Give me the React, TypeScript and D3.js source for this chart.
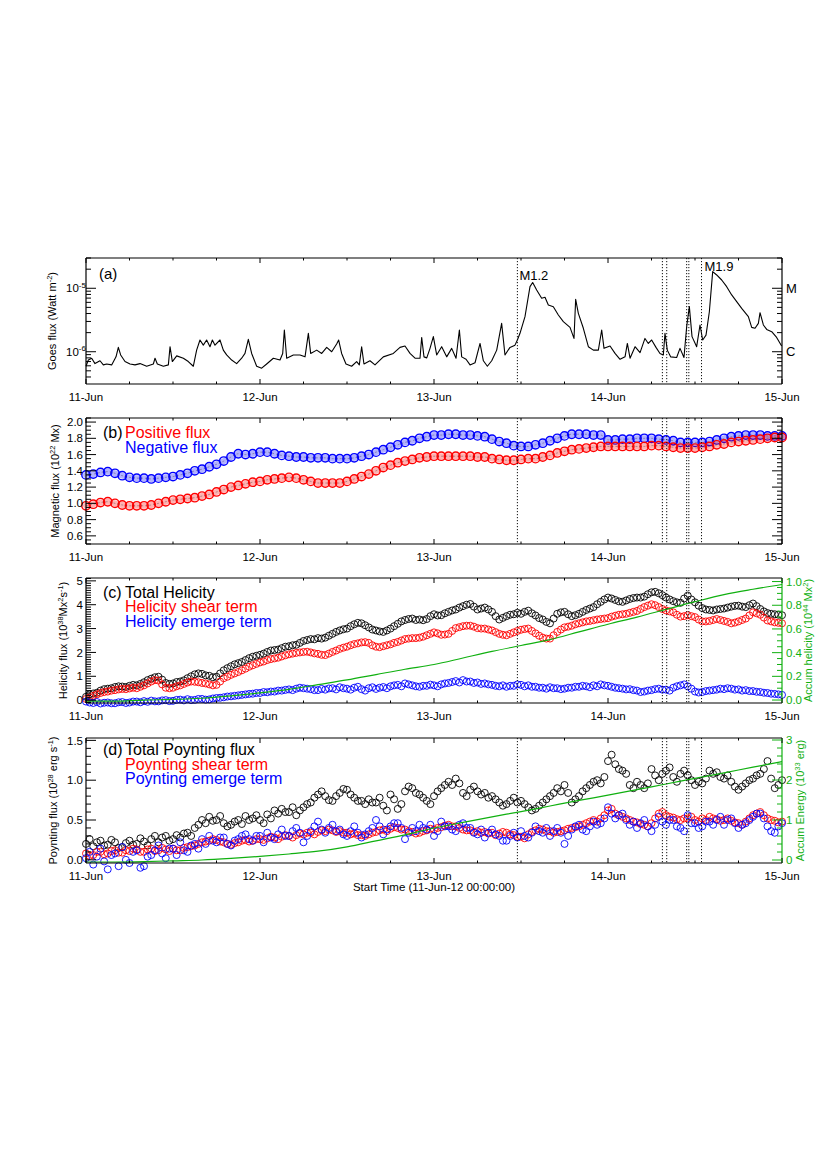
import React from 'react';
import * as d3 from 'd3';

// time axis: hours since 11-Jun-12 00:00:00
const dayLabels = ['11-Jun', '12-Jun', '13-Jun', '14-Jun', '15-Jun'];
const eventHours = [59.5, 79.5, 80.1, 82.85, 83.15, 84.9];

// (a) GOES flux, in units of 1e-6 W m^-2
const goesHour = [0, 0.32, 0.78, 1.24, 1.93, 2.39, 2.85, 3.54, 4.14, 4.46, 4.78, 5.38, 6.07, 6.76, 7.45, 8.37, 9.29, 9.52, 9.84, 10.67,
  11.36, 11.59, 11.91, 12.51, 13.43, 14.11, 14.8, 15.26, 15.72, 16.18, 16.64, 17.1, 17.43, 17.79, 18.48, 18.94, 19.4, 20.09, 20.78, 21.47,
  21.93, 22.39, 22.85, 23.54, 24.23, 24.92, 25.84, 26.76, 27.13, 27.36, 27.68, 28.6, 29.52, 30.21, 30.67, 30.99, 31.82, 32.51, 33.2, 33.89,
  34.57, 34.85, 35.26, 35.86, 36.64, 37.33, 37.7, 38.02, 38.34, 39.17, 39.86, 41.01, 42.39, 43.31, 44.0, 44.69, 45.38, 46.07, 46.3, 46.62,
  47.0, 47.45, 47.91, 48.37, 49.06, 49.75, 50.44, 51.04, 51.5, 51.82, 52.42, 52.97, 53.66, 54.35, 54.81, 55.36, 55.96, 56.65, 57.33, 57.79,
  58.48, 59.17, 59.5, 59.86, 60.55, 61.24, 61.61, 62.16, 62.85, 63.31, 63.77, 64.46, 65.15, 65.84, 66.76, 67.31, 67.54, 67.91, 68.6, 69.29,
  69.98, 70.67, 71.13, 71.45, 72.28, 72.97, 73.66, 74.35, 74.67, 75.04, 75.73, 76.42, 77.1, 77.56, 78.02, 78.62, 79.17, 79.63, 79.86, 80.18,
  80.64, 81.47, 81.93, 82.48, 82.85, 83.22, 83.59, 84.23, 84.69, 85.06, 85.52, 85.98, 86.44, 86.99, 87.68, 88.37, 89.06, 89.75, 90.44, 91.36,
  91.82, 92.28, 92.74, 92.97, 93.43, 93.89, 94.58, 95.26, 95.95];
const goesFlux = [0.59, 0.74, 0.79, 0.65, 0.72, 0.62, 0.64, 0.62, 0.83, 1.17, 0.89, 0.70, 0.64, 0.62, 0.65, 0.59, 0.64, 0.79, 0.64, 0.59,
  0.62, 1.20, 0.70, 0.86, 0.79, 0.70, 0.59, 1.06, 1.53, 1.27, 1.53, 1.20, 1.53, 1.27, 1.53, 1.06, 0.89, 0.74, 0.65, 0.79,
  0.94, 1.57, 0.94, 0.59, 0.55, 0.64, 0.79, 0.74, 0.94, 2.20, 0.79, 0.89, 0.89, 0.83, 1.95, 0.94, 1.06, 0.94, 1.17, 1.0,
  1.32, 1.53, 0.94, 0.64, 0.59, 0.70, 0.62, 1.20, 0.64, 0.72, 0.62, 0.83, 0.94, 1.17, 1.23, 0.94, 0.79, 0.79, 1.68, 0.83,
  0.80, 1.13, 1.73, 0.89, 1.20, 0.83, 1.13, 0.79, 2.20, 0.83, 0.76, 0.62, 0.67, 1.35, 0.72, 0.59, 0.72, 1.06, 2.80, 0.89,
  1.17, 1.27, 1.53, 1.95, 3.57, 10.6, 12.3, 9.4, 6.95, 7.2, 5.45, 5.13, 3.79, 2.98, 2.42, 1.62, 6.70, 4.03, 2.34, 1.20,
  1.06, 1.06, 2.20, 1.13, 1.23, 0.94, 0.76, 0.83, 1.35, 0.79, 1.20, 0.97, 1.62, 1.35, 1.53, 1.17, 0.94, 0.89, 1.95, 1.06,
  0.83, 0.81, 1.13, 0.81, 2.48, 5.13, 1.73, 1.20, 2.64, 1.53, 1.83, 4.27, 18.3, 16.2, 13.5, 10.6, 7.85, 6.16, 4.83, 3.57,
  2.42, 2.34, 2.80, 4.12, 2.64, 2.25, 2.07, 1.68, 1.23];

// (b) hourly magnetic flux, 1e22 Mx
const posFlux = [0.97, 0.99, 1.01, 1.02, 1.00, 0.98, 0.97, 0.97, 0.97, 0.98, 1.00, 1.02, 1.04, 1.05, 1.06, 1.07, 1.09, 1.11, 1.14, 1.17,
  1.20, 1.22, 1.24, 1.26, 1.27, 1.29, 1.30, 1.31, 1.32, 1.31, 1.29, 1.27, 1.25, 1.25, 1.25, 1.25, 1.27, 1.30, 1.33, 1.36,
  1.40, 1.44, 1.47, 1.50, 1.52, 1.54, 1.56, 1.57, 1.58, 1.58, 1.58, 1.58, 1.58, 1.58, 1.57, 1.57, 1.55, 1.54, 1.53, 1.53,
  1.54, 1.55, 1.55, 1.57, 1.59, 1.62, 1.64, 1.66, 1.67, 1.68, 1.69, 1.70, 1.70, 1.70, 1.70, 1.70, 1.70, 1.70, 1.71, 1.71,
  1.70, 1.69, 1.68, 1.68, 1.68, 1.69, 1.70, 1.72, 1.73, 1.75, 1.76, 1.77, 1.78, 1.79, 1.80, 1.81, 1.81];
const negFlux = [1.35, 1.36, 1.38, 1.39, 1.37, 1.34, 1.32, 1.31, 1.31, 1.30, 1.31, 1.32, 1.33, 1.35, 1.37, 1.40, 1.42, 1.45, 1.48, 1.52,
  1.57, 1.61, 1.60, 1.61, 1.63, 1.63, 1.61, 1.59, 1.58, 1.57, 1.57, 1.56, 1.56, 1.56, 1.55, 1.55, 1.55, 1.56, 1.58, 1.60,
  1.63, 1.66, 1.69, 1.72, 1.75, 1.77, 1.80, 1.82, 1.84, 1.84, 1.85, 1.85, 1.84, 1.84, 1.83, 1.82, 1.79, 1.76, 1.74, 1.71,
  1.70, 1.70, 1.72, 1.74, 1.77, 1.80, 1.83, 1.85, 1.85, 1.85, 1.84, 1.84, 1.78, 1.78, 1.79, 1.79, 1.80, 1.80, 1.80, 1.79,
  1.78, 1.77, 1.75, 1.75, 1.75, 1.75, 1.76, 1.78, 1.80, 1.82, 1.83, 1.84, 1.84, 1.84, 1.83, 1.83, 1.83];

// (c) half-hourly helicity flux, 1e38 Mx^2 s^-1
const helTotal = [
  0.14, 0.24, 0.28, 0.31, 0.40, 0.46, 0.48, 0.50, 0.55, 0.58, 0.57, 0.55, 0.60, 0.64, 0.62, 0.68, 0.75, 0.84, 0.90, 0.96,
  0.98, 0.86, 0.72, 0.68, 0.70, 0.76, 0.78, 0.83, 0.92, 1.00, 1.08, 1.12, 1.10, 1.04, 1.02, 0.96, 0.98, 1.12, 1.25, 1.34,
  1.42, 1.50, 1.55, 1.60, 1.68, 1.76, 1.82, 1.86, 1.90, 1.95, 2.02, 2.08, 2.10, 2.12, 2.18, 2.24, 2.26, 2.30, 2.32, 2.40,
  2.48, 2.52, 2.56, 2.55, 2.60, 2.58, 2.62, 2.70, 2.78, 2.86, 2.92, 2.97, 3.00, 3.10, 3.18, 3.24, 3.22, 3.14, 3.05, 2.96,
  2.92, 2.88, 2.86, 2.92, 3.00, 3.10, 3.20, 3.30, 3.36, 3.40, 3.42, 3.36, 3.38, 3.35, 3.40, 3.52, 3.60, 3.55, 3.56, 3.64,
  3.70, 3.76, 3.80, 3.88, 3.94, 4.00, 4.03, 3.92, 3.80, 3.84, 3.88, 3.80, 3.70, 3.52, 3.38, 3.45, 3.52, 3.58, 3.60, 3.66,
  3.62, 3.70, 3.75, 3.64, 3.55, 3.44, 3.38, 3.28, 3.22, 3.42, 3.62, 3.68, 3.70, 3.60, 3.52, 3.56, 3.62, 3.70, 3.78, 3.84,
  3.90, 4.02, 4.12, 4.22, 4.30, 4.26, 4.20, 4.14, 4.12, 4.18, 4.24, 4.28, 4.30, 4.30, 4.34, 4.44, 4.52, 4.54, 4.48, 4.40,
  4.30, 4.22, 4.15, 4.10, 4.08, 4.26, 4.38, 4.22, 4.10, 3.96, 3.86, 3.80, 3.78, 3.76, 3.80, 3.82, 3.84, 3.88, 3.92, 3.95,
  3.96, 3.92, 3.90, 3.98, 4.05, 3.94, 3.82, 3.72, 3.65, 3.62, 3.60, 3.58, 3.56];
const helShear = [
  0.05, 0.12, 0.18, 0.24, 0.30, 0.34, 0.36, 0.40, 0.42, 0.45, 0.47, 0.46, 0.49, 0.52, 0.50, 0.56, 0.62, 0.70, 0.78, 0.84,
  0.82, 0.66, 0.52, 0.50, 0.52, 0.58, 0.62, 0.68, 0.74, 0.78, 0.77, 0.75, 0.72, 0.70, 0.66, 0.62, 0.64, 0.78, 0.92, 0.98,
  1.06, 1.12, 1.18, 1.25, 1.32, 1.40, 1.46, 1.52, 1.58, 1.62, 1.68, 1.72, 1.75, 1.78, 1.83, 1.88, 1.92, 1.95, 1.98, 2.00,
  2.02, 2.03, 2.00, 1.96, 1.94, 1.90, 1.89, 1.95, 2.02, 2.08, 2.15, 2.20, 2.24, 2.30, 2.35, 2.38, 2.42, 2.43, 2.40, 2.30,
  2.24, 2.22, 2.26, 2.30, 2.34, 2.40, 2.44, 2.50, 2.56, 2.58, 2.60, 2.60, 2.62, 2.66, 2.72, 2.78, 2.84, 2.80, 2.74, 2.75,
  2.78, 2.90, 3.02, 3.06, 3.10, 3.12, 3.12, 3.08, 3.02, 3.00, 3.00, 2.96, 2.92, 2.85, 2.78, 2.74, 2.72, 2.78, 2.84, 2.90,
  2.95, 2.98, 3.00, 2.90, 2.80, 2.70, 2.62, 2.58, 2.58, 2.72, 2.86, 2.96, 3.05, 3.08, 3.12, 3.18, 3.22, 3.26, 3.30, 3.32,
  3.35, 3.38, 3.40, 3.42, 3.44, 3.50, 3.54, 3.58, 3.60, 3.62, 3.66, 3.70, 3.74, 3.82, 3.90, 3.96, 4.02, 3.98, 3.90, 3.82,
  3.76, 3.72, 3.68, 3.58, 3.50, 3.52, 3.56, 3.52, 3.48, 3.38, 3.30, 3.30, 3.32, 3.36, 3.40, 3.36, 3.32, 3.28, 3.22, 3.25,
  3.30, 3.36, 3.42, 3.55, 3.68, 3.64, 3.58, 3.46, 3.34, 3.30, 3.26, 3.24, 3.22];
const helEmerge = [
  -0.06, -0.10, -0.12, -0.08, -0.14, -0.11, -0.10, -0.13, -0.13, -0.09, -0.08, -0.12, -0.10, -0.06, -0.06, -0.09, -0.04, -0.07, -0.02, -0.05,
  -0.05, -0.01, 0.00, -0.04, -0.03, 0.01, 0.02, -0.01, 0.04, 0.00, 0.01, 0.05, 0.05, 0.02, 0.03, 0.07, 0.09, 0.10, 0.12, 0.15,
  0.16, 0.18, 0.20, 0.22, 0.24, 0.26, 0.27, 0.30, 0.30, 0.34, 0.33, 0.36, 0.36, 0.40, 0.40, 0.43, 0.45, 0.42, 0.48, 0.52,
  0.50, 0.48, 0.46, 0.42, 0.42, 0.47, 0.44, 0.49, 0.50, 0.45, 0.54, 0.50, 0.48, 0.44, 0.52, 0.56, 0.46, 0.40, 0.50, 0.54,
  0.47, 0.52, 0.55, 0.50, 0.58, 0.62, 0.64, 0.58, 0.70, 0.66, 0.62, 0.58, 0.56, 0.60, 0.60, 0.65, 0.62, 0.58, 0.66, 0.70,
  0.72, 0.76, 0.80, 0.74, 0.84, 0.78, 0.78, 0.72, 0.74, 0.68, 0.70, 0.66, 0.64, 0.60, 0.58, 0.62, 0.56, 0.60, 0.60, 0.66,
  0.64, 0.58, 0.62, 0.56, 0.56, 0.52, 0.52, 0.48, 0.54, 0.50, 0.50, 0.46, 0.48, 0.52, 0.52, 0.56, 0.56, 0.60, 0.58, 0.54,
  0.62, 0.58, 0.66, 0.62, 0.60, 0.56, 0.52, 0.50, 0.48, 0.45, 0.46, 0.42, 0.40, 0.34, 0.36, 0.40, 0.42, 0.46, 0.48, 0.44,
  0.44, 0.40, 0.52, 0.58, 0.62, 0.66, 0.58, 0.48, 0.36, 0.32, 0.34, 0.38, 0.40, 0.42, 0.44, 0.48, 0.46, 0.50, 0.48, 0.44,
  0.45, 0.40, 0.42, 0.38, 0.38, 0.35, 0.34, 0.31, 0.30, 0.27, 0.26, 0.24, 0.22];

// accumulated quantities, every 4 hours
const accumHour = [0, 4, 8, 12, 16, 20, 24, 28, 32, 36, 40, 44, 48, 52, 56, 60, 64, 68, 72, 76, 80, 84, 88, 92, 96];
const accumHel = [-0.01, -0.01, 0.0, 0.005, 0.015, 0.035, 0.06, 0.09, 0.13, 0.17, 0.215, 0.26, 0.30, 0.355, 0.41, 0.46, 0.51, 0.575,
  0.64, 0.70, 0.765, 0.83, 0.89, 0.935, 0.975];
const accumEnergy = [-0.05, -0.05, -0.04, -0.02, 0.0, 0.04, 0.09, 0.15, 0.22, 0.33, 0.48, 0.63, 0.80, 0.94, 1.08, 1.21, 1.35, 1.49,
  1.62, 1.76, 1.90, 2.04, 2.18, 2.32, 2.46];

// (d) half-hourly Poynting flux, 1e28 erg s^-1
const poyTotal = [
  0.20, 0.26, 0.17, 0.22, 0.24, 0.18, 0.19, 0.25, 0.22, 0.15, 0.16, 0.21, 0.24, 0.19, 0.20, 0.27, 0.23, 0.18, 0.26, 0.30,
  0.22, 0.28, 0.30, 0.24, 0.26, 0.31, 0.28, 0.33, 0.34, 0.30, 0.40, 0.44, 0.50, 0.46, 0.54, 0.49, 0.50, 0.55, 0.46, 0.42,
  0.44, 0.48, 0.50, 0.45, 0.55, 0.50, 0.52, 0.56, 0.50, 0.46, 0.57, 0.52, 0.62, 0.58, 0.64, 0.60, 0.60, 0.66, 0.56, 0.62,
  0.66, 0.70, 0.72, 0.78, 0.82, 0.86, 0.80, 0.75, 0.74, 0.80, 0.84, 0.89, 0.88, 0.82, 0.78, 0.74, 0.74, 0.70, 0.76, 0.72,
  0.72, 0.78, 0.68, 0.62, 0.82, 0.76, 0.64, 0.70, 0.86, 0.92, 0.90, 0.84, 0.82, 0.78, 0.74, 0.70, 0.80, 0.86, 0.90, 0.94,
  0.98, 0.94, 1.02, 0.96, 0.84, 0.80, 0.88, 0.92, 0.86, 0.82, 0.84, 0.78, 0.80, 0.76, 0.72, 0.68, 0.70, 0.74, 0.78, 0.72,
  0.74, 0.70, 0.66, 0.62, 0.64, 0.68, 0.72, 0.76, 0.80, 0.84, 0.90, 0.86, 0.94, 0.84, 0.72, 0.76, 0.80, 0.86, 0.90, 0.94,
  0.98, 1.00, 0.96, 1.04, 1.24, 1.32, 1.20, 1.14, 1.12, 1.08, 0.94, 0.90, 0.98, 0.94, 0.90, 0.96, 1.14, 1.06, 1.00, 1.08,
  1.12, 1.16, 1.04, 0.98, 1.08, 1.12, 1.06, 1.00, 0.94, 0.98, 0.96, 1.02, 1.12, 1.08, 1.10, 1.04, 1.02, 1.06, 0.98, 0.92,
  0.88, 0.92, 0.96, 1.00, 1.02, 1.06, 1.08, 1.14, 1.24, 1.02, 0.90, 0.94, 1.00];
const poyShear = [
  0.08, 0.05, 0.06, 0.10, 0.10, 0.07, 0.08, 0.11, 0.12, 0.09, 0.09, 0.12, 0.11, 0.14, 0.13, 0.10, 0.10, 0.13, 0.14, 0.11,
  0.12, 0.15, 0.13, 0.11, 0.14, 0.12, 0.12, 0.15, 0.16, 0.17, 0.18, 0.20, 0.22, 0.23, 0.24, 0.26, 0.25, 0.23, 0.22, 0.20,
  0.19, 0.21, 0.22, 0.24, 0.25, 0.23, 0.24, 0.26, 0.26, 0.25, 0.27, 0.29, 0.28, 0.26, 0.29, 0.31, 0.30, 0.28, 0.31, 0.33,
  0.32, 0.34, 0.34, 0.32, 0.35, 0.37, 0.36, 0.38, 0.37, 0.35, 0.36, 0.34, 0.34, 0.32, 0.33, 0.31, 0.31, 0.30, 0.32, 0.34,
  0.35, 0.37, 0.38, 0.36, 0.39, 0.41, 0.40, 0.38, 0.38, 0.36, 0.35, 0.33, 0.34, 0.36, 0.37, 0.39, 0.38, 0.40, 0.41, 0.43,
  0.44, 0.42, 0.42, 0.40, 0.38, 0.37, 0.37, 0.35, 0.36, 0.34, 0.35, 0.33, 0.34, 0.31, 0.33, 0.35, 0.34, 0.32, 0.31, 0.29,
  0.29, 0.27, 0.32, 0.35, 0.37, 0.39, 0.38, 0.36, 0.36, 0.34, 0.35, 0.36, 0.37, 0.39, 0.40, 0.41, 0.42, 0.44, 0.46, 0.48,
  0.50, 0.48, 0.52, 0.56, 0.62, 0.64, 0.58, 0.56, 0.54, 0.52, 0.50, 0.48, 0.47, 0.45, 0.44, 0.42, 0.46, 0.52, 0.58, 0.60,
  0.56, 0.54, 0.53, 0.51, 0.50, 0.52, 0.52, 0.54, 0.50, 0.48, 0.52, 0.50, 0.54, 0.52, 0.51, 0.49, 0.50, 0.52, 0.49, 0.47,
  0.46, 0.44, 0.48, 0.52, 0.56, 0.58, 0.60, 0.56, 0.52, 0.50, 0.49, 0.47, 0.48];
const poyEmerge = [
  0.02, 0.10, -0.06, 0.04, 0.14, -0.02, -0.12, 0.06, 0.08, -0.08, 0.16, 0.00, -0.04, 0.10, 0.12, -0.10, -0.08, 0.04, 0.06, 0.12,
  0.18, 0.08, 0.02, 0.14, 0.14, 0.06, 0.22, 0.12, 0.10, 0.18, 0.20, 0.14, 0.26, 0.20, 0.30, 0.24, 0.22, 0.28, 0.28, 0.20,
  0.18, 0.24, 0.26, 0.30, 0.32, 0.26, 0.24, 0.30, 0.30, 0.22, 0.34, 0.28, 0.26, 0.32, 0.38, 0.30, 0.30, 0.36, 0.40, 0.34,
  0.22, 0.30, 0.36, 0.42, 0.48, 0.38, 0.34, 0.40, 0.44, 0.36, 0.38, 0.32, 0.30, 0.36, 0.42, 0.34, 0.28, 0.32, 0.36, 0.40,
  0.50, 0.42, 0.32, 0.38, 0.42, 0.46, 0.46, 0.40, 0.26, 0.34, 0.40, 0.36, 0.44, 0.40, 0.38, 0.44, 0.30, 0.36, 0.48, 0.42,
  0.42, 0.38, 0.36, 0.44, 0.46, 0.40, 0.40, 0.34, 0.32, 0.38, 0.28, 0.34, 0.38, 0.32, 0.30, 0.24, 0.24, 0.30, 0.34, 0.28,
  0.36, 0.30, 0.28, 0.34, 0.42, 0.36, 0.34, 0.40, 0.30, 0.36, 0.40, 0.34, 0.20, 0.30, 0.38, 0.42, 0.44, 0.38, 0.36, 0.42,
  0.48, 0.44, 0.46, 0.52, 0.66, 0.58, 0.52, 0.56, 0.58, 0.50, 0.44, 0.48, 0.40, 0.46, 0.50, 0.42, 0.36, 0.44, 0.54, 0.48,
  0.44, 0.50, 0.50, 0.42, 0.40, 0.36, 0.56, 0.46, 0.46, 0.40, 0.42, 0.48, 0.48, 0.44, 0.50, 0.54, 0.44, 0.50, 0.52, 0.46,
  0.40, 0.44, 0.46, 0.50, 0.54, 0.58, 0.58, 0.52, 0.42, 0.36, 0.34, 0.42, 0.46];

const FONT = '"Liberation Sans", Arial, Helvetica, sans-serif';
const RED = '#ff0000';
const BLUE = '#0000ff';
const GREEN = '#10b010';
const X0 = 86, X1 = 782;

const x = d3.scaleLinear().domain([0, 96]).range([X0, X1]);

const panelA = { top: 258, bottom: 384 };
const panelB = { top: 418, bottom: 544 };
const panelC = { top: 578, bottom: 703 };
const panelD = { top: 738, bottom: 863 };

const yA = d3.scaleLog().domain([0.31, 30]).range([panelA.bottom, panelA.top]);
const yB = d3.scaleLinear().domain([0.5, 2.05]).range([panelB.bottom, panelB.top]);
const yC = d3.scaleLinear().domain([-0.12, 5.12]).range([panelC.bottom, panelC.top]);
const yCr = d3.scaleLinear().domain([-0.025, 1.03]).range([panelC.bottom, panelC.top]);
const yD = d3.scaleLinear().domain([-0.04, 1.53]).range([panelD.bottom, panelD.top]);
const yDr = d3.scaleLinear().domain([-0.075, 3.05]).range([panelD.bottom, panelD.top]);

function stepTicks(scale, step) {
  const [a, b] = scale.domain();
  const out = [];
  for (let k = Math.ceil(a / step - 1e-6); k * step <= b + 1e-6; k++) out.push(+(k * step).toFixed(6));
  return out;
}

// text with superscript parts: [['Goes flux (Watt m'], ['-2', true], [')']]
function RichText({ parts, size, ...rest }) {
  const sup = size * 0.38;
  let up = false;
  return (
    <text fontFamily={FONT} fontSize={size} {...rest}>
      {parts.map(([t, isSup], i) => {
        let dy = 0;
        if (isSup && !up) { dy = -sup; up = true; }
        else if (!isSup && up) { dy = sup; up = false; }
        return (
          <tspan key={i} dy={dy} fontSize={isSup ? size * 0.68 : size}>{t}</tspan>
        );
      })}
    </text>
  );
}

function Frame({ p, rightColor = '#000' }) {
  return (
    <g fill="none" strokeWidth={1.2}>
      <line x1={X0} x2={X1} y1={p.top} y2={p.top} stroke="#000" />
      <line x1={X0} x2={X1} y1={p.bottom} y2={p.bottom} stroke="#000" />
      <line x1={X0} x2={X0} y1={p.top} y2={p.bottom} stroke="#000" />
      <line x1={X1} x2={X1} y1={p.top} y2={p.bottom} stroke={rightColor} />
    </g>
  );
}

function TimeAxis({ p }) {
  const minor = d3.range(0, 97, 6);
  return (
    <g>
      {minor.map((h) => {
        const len = h % 24 === 0 ? 5 : 2.5;
        return (
          <g key={h} stroke="#000" strokeWidth={1}>
            <line x1={x(h)} x2={x(h)} y1={p.bottom} y2={p.bottom - len} />
            <line x1={x(h)} x2={x(h)} y1={p.top} y2={p.top + len} />
          </g>
        );
      })}
      {dayLabels.map((d, i) => (
        <text key={d} x={x(i * 24)} y={p.bottom + 16.5} textAnchor="middle" fontFamily={FONT} fontSize={11.5}>{d}</text>
      ))}
    </g>
  );
}

function YTicks({ scale, major, minor, side, color = '#000', labels = false, fmt = (v) => String(v) }) {
  const x0 = side === 'left' ? X0 : X1;
  const dir = side === 'left' ? 1 : -1;
  const majors = stepTicks(scale, major);
  const minors = stepTicks(scale, minor).filter((v) => !majors.some((m) => Math.abs(m - v) < 1e-6));
  return (
    <g stroke={color} strokeWidth={1}>
      {minors.map((v) => (
        <line key={'n' + v} x1={x0} x2={x0 + dir * 5} y1={scale(v)} y2={scale(v)} />
      ))}
      {majors.map((v) => (
        <line key={'m' + v} x1={x0} x2={x0 + dir * 10} y1={scale(v)} y2={scale(v)} />
      ))}
      {labels && majors.map((v) => (
        <text key={'t' + v} stroke="none" fill={color} x={side === 'left' ? x0 - 3 : x0 + 4} y={scale(v)} dy="0.36em"
          textAnchor={side === 'left' ? 'end' : 'start'} fontFamily={FONT} fontSize={11.5}>{fmt(v)}</text>
      ))}
    </g>
  );
}

function LogTicks({ side }) {
  const x0 = side === 'left' ? X0 : X1;
  const dir = side === 'left' ? 1 : -1;
  const vals = [];
  [0.1, 1, 10].forEach((dec) => {
    for (let m = 1; m <= 9; m++) {
      const v = m * dec;
      if (v >= 0.31 && v <= 30) vals.push({ v, major: m === 1 });
    }
  });
  return (
    <g stroke="#000" strokeWidth={1}>
      {vals.map(({ v, major }) => (
        <line key={v} x1={x0} x2={x0 + dir * (major ? 10 : 5)} y1={yA(v)} y2={yA(v)} />
      ))}
    </g>
  );
}

function EventLines({ p }) {
  return (
    <g stroke="#111" strokeWidth={1} strokeDasharray="1.2,1.8">
      {eventHours.map((h) => (
        <line key={h} x1={x(h)} x2={x(h)} y1={p.top} y2={p.bottom} />
      ))}
    </g>
  );
}

// step = hours between samples
function Circles({ values, scale, color, step = 1, r = 3.5, w = 0.9 }) {
  return (
    <g fill="none" stroke={color} strokeWidth={w}>
      {values.map((v, i) => (
        <circle key={i} cx={x(i * step)} cy={scale(v)} r={r} />
      ))}
    </g>
  );
}

function Band({ values, color }) {
  const line = d3.line().x((d, i) => x(i)).y((d) => yB(d)).curve(d3.curveMonotoneX);
  const d = line(values);
  return (
    <g fill="none">
      <path d={d} stroke={color} strokeOpacity={0.3} strokeWidth={6} strokeLinecap="round" strokeLinejoin="round" />
      <Circles values={values} scale={yB} color={color} r={4.2} w={1.4} />
      <path d={d} stroke="#333" strokeOpacity={0.45} strokeWidth={0.8} strokeDasharray="2,2" />
    </g>
  );
}

function YTitle({ parts, cx, cy, color = '#000', size = 11 }) {
  return (
    <RichText parts={parts} size={size} fill={color} textAnchor="middle"
      transform={`translate(${cx},${cy}) rotate(-90)`} />
  );
}

export default function App() {
  const goesLine = d3.line()
    .x((d) => x(d[0]))
    .y((d) => yA(d[1]))(goesHour.map((h, i) => [h, goesFlux[i]]));
  const accumLine = (scale, vals) => d3.line()
    .x((d, i) => x(accumHour[i]))
    .y((d) => scale(d))
    .curve(d3.curveMonotoneX)(vals);
  const midY = (p) => (p.top + p.bottom) / 2;

  return (
    <svg width={830} height={1175} style={{ position: 'absolute', left: 0, top: 0, background: '#fff' }}>
      <rect width={830} height={1175} fill="#fff" />

      {/* (a) GOES */}
      <g>
        <EventLines p={panelA} />
        <path d={goesLine} fill="none" stroke="#000" strokeWidth={1.1} strokeLinejoin="round" />
        <Frame p={panelA} />
        <TimeAxis p={panelA} />
        <LogTicks side="left" />
        <LogTicks side="right" />
        <RichText parts={[['10'], ['-5', true]]} size={11.5} x={66} y={yA(10) + 4} />
        <RichText parts={[['10'], ['-6', true]]} size={11.5} x={66} y={yA(1) + 4} />
        <text x={X1 + 4} y={yA(10) + 4.5} fontFamily={FONT} fontSize={13}>M</text>
        <text x={X1 + 4} y={yA(1) + 4.5} fontFamily={FONT} fontSize={13}>C</text>
        <text x={99} y={278.5} fontFamily={FONT} fontSize={15}>(a)</text>
        <text x={x(eventHours[0]) + 2} y={279.5} fontFamily={FONT} fontSize={13}>M1.2</text>
        <text x={x(eventHours[5]) + 3} y={270.5} fontFamily={FONT} fontSize={13}>M1.9</text>
        <YTitle parts={[['Goes flux (Watt m'], ['-2', true], [')']]} cx={56} cy={midY(panelA)} />
      </g>

      {/* (b) magnetic flux */}
      <g>
        <Band values={negFlux} color={BLUE} />
        <Band values={posFlux} color={RED} />
        <EventLines p={panelB} />
        <Frame p={panelB} />
        <TimeAxis p={panelB} />
        <YTicks scale={yB} major={0.2} minor={0.05} side="left" labels fmt={(v) => v.toFixed(1)} />
        <YTicks scale={yB} major={0.2} minor={0.05} side="right" />
        <text x={103} y={438} fontFamily={FONT} fontSize={16}>(b)</text>
        <text x={125} y={438} fontFamily={FONT} fontSize={16} fill={RED}>Positive flux</text>
        <text x={125} y={452.5} fontFamily={FONT} fontSize={16} fill={BLUE}>Negative flux</text>
        <YTitle parts={[['Magnetic flux (10'], ['22', true], [' Mx)']]} cx={59} cy={midY(panelB)} />
      </g>

      {/* (c) helicity */}
      <g>
        <Circles values={helTotal} scale={yC} color="#000" step={0.5} />
        <Circles values={helShear} scale={yC} color={RED} step={0.5} />
        <Circles values={helEmerge} scale={yC} color={BLUE} step={0.5} />
        <path d={accumLine(yCr, accumHel)} fill="none" stroke={GREEN} strokeWidth={1.2} />
        <EventLines p={panelC} />
        <Frame p={panelC} rightColor={GREEN} />
        <TimeAxis p={panelC} />
        <YTicks scale={yC} major={1} minor={0.1} side="left" labels fmt={(v) => v.toFixed(0)} />
        <YTicks scale={yCr} major={0.2} minor={0.05} side="right" color={GREEN} labels fmt={(v) => v.toFixed(1)} />
        <text x={103} y={597.5} fontFamily={FONT} fontSize={16}>(c)</text>
        <text x={125} y={597.5} fontFamily={FONT} fontSize={16}>Total Helicity</text>
        <text x={125} y={612} fontFamily={FONT} fontSize={16} fill={RED}>Helicity shear term</text>
        <text x={125} y={626.5} fontFamily={FONT} fontSize={16} fill={BLUE}>Helicity emerge term</text>
        <YTitle parts={[['Helicity flux (10'], ['38', true], ['Mx'], ['2', true], ['s'], ['-1', true], [')']]} cx={67} cy={midY(panelC)} />
        <YTitle parts={[['Accum helicity (10'], ['44', true], [' Mx'], ['2', true], [')']]} cx={812} cy={midY(panelC)} color={GREEN} />
      </g>

      {/* (d) Poynting flux */}
      <g>
        <Circles values={poyTotal} scale={yD} color="#000" step={0.5} />
        <Circles values={poyShear} scale={yD} color={RED} step={0.5} />
        <Circles values={poyEmerge} scale={yD} color={BLUE} step={0.5} />
        <path d={accumLine(yDr, accumEnergy)} fill="none" stroke={GREEN} strokeWidth={1.2} />
        <EventLines p={panelD} />
        <Frame p={panelD} rightColor={GREEN} />
        <TimeAxis p={panelD} />
        <YTicks scale={yD} major={0.5} minor={0.1} side="left" labels fmt={(v) => v.toFixed(1)} />
        <YTicks scale={yDr} major={1} minor={0.2} side="right" color={GREEN} labels fmt={(v) => v.toFixed(0)} />
        <text x={103} y={755} fontFamily={FONT} fontSize={16}>(d)</text>
        <text x={125} y={755} fontFamily={FONT} fontSize={16}>Total Poynting flux</text>
        <text x={125} y={769.5} fontFamily={FONT} fontSize={16} fill={RED}>Poynting shear term</text>
        <text x={125} y={784} fontFamily={FONT} fontSize={16} fill={BLUE}>Poynting emerge term</text>
        <YTitle parts={[['Poynting flux (10'], ['28', true], [' erg s'], ['-1', true], [')']]} cx={57} cy={midY(panelD)} />
        <YTitle parts={[['Accum Energy (10'], ['33', true], [' erg)']]} cx={804} cy={midY(panelD)} color={GREEN} />
        <text x={x(48)} y={891} textAnchor="middle" fontFamily={FONT} fontSize={11.5}>Start Time (11-Jun-12 00:00:00)</text>
      </g>
    </svg>
  );
}
